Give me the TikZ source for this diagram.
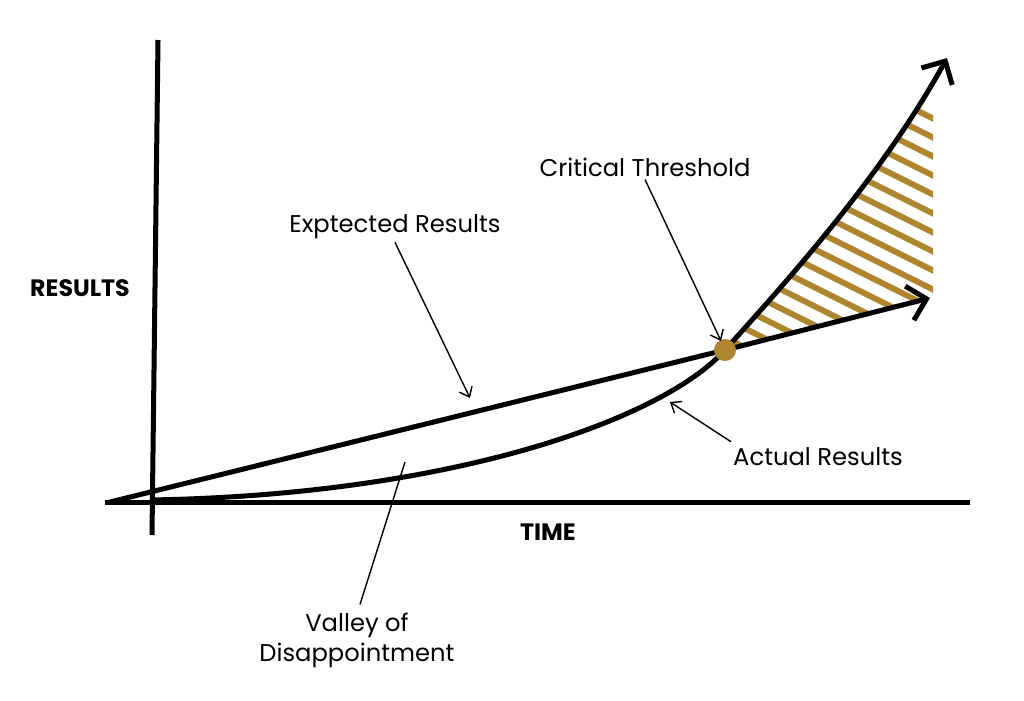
\documentclass[tikz,border=0pt]{standalone}
\usepackage{fontspec}
\setmainfont{Poppins}
\usetikzlibrary{arrows.meta}
\definecolor{gold}{HTML}{B08530}
\tikzset{
    axis/.style = {line width=5pt*0.57, black},
    curve/.style = {line width=5pt*0.57, black, arrows={-Straight Barb[length=10pt, width=20pt]}},
    pointer/.style = {line width=0.8pt, black, arrows={-Straight Barb[length=5pt, width=8pt]}},
    label/.style = {font=\fontsize{13.8}{17}\selectfont, align=center},
    heading/.style = {font=\bfseries\fontsize{13.5}{16}\selectfont},
    hatch/.style = {gold, line width=6pt*0.57},
}
\begin{document}
\begin{tikzpicture}[x=0.02cm, y=-0.02cm]
    \useasboundingbox (0,0) rectangle (1024,700);

    %% Hatched gain between the two curves
    \begin{scope}
      \clip (725,350) -- (933,298) -- (933,105) -- (725,105) -- cycle;
      \clip (725,350) .. controls (788,280) and (882,176) .. (947,58)
            -- (1024,58) -- (1024,700) -- (725,700) -- cycle;
      \foreach \k in {-12,...,22}{%
        \draw [hatch] (700,{40+19*\k}) -- ++(300,150);
      }
    \end{scope}

    %% Axes
    \coordinate (ytop) at (158,40);
    \coordinate (ybot) at (152,535);
    \coordinate (xl) at (105,502);
    \coordinate (xr) at (970,502);
    \draw [axis] (ytop) -- (ybot);
    \draw [axis] (xl) -- (xr);

    %% Expected and actual results
    \coordinate (start) at (110,502);
    \coordinate (crit) at (725,350);
    \coordinate (expend) at (930,298);
    \coordinate (actend) at (947,58);
    \draw [curve] (start) -- (crit) -- (expend);
    \draw [curve] (150,500) .. controls (450,495) and (662,420) .. (crit)
        .. controls (788,280) and (882,176) .. (actend);
    \fill [gold] (crit) circle (11);

    %% Labels
    \node [heading] (results) at (80,288) {RESULTS};
    \node [heading] (time) at (548,532) {TIME};
    \node [label] (critical) at (645,167) {Critical Threshold};
    \node [label] (expected) at (395,227) {Exptected Results};
    \node [label] (actual) at (818,457) {Actual Results};
    \node [label] (valley) at (357,640) {Valley of\\Disappointment};

    \coordinate (critpt) at (721,341);
    \coordinate (exppt) at (470,398);
    \coordinate (actpt) at (670,402);
    \coordinate (valpt) at (405,462);
    \draw [pointer] (critical.south) ++(0,-3) -- (critpt);
    \draw [pointer] (expected.south) ++(0,-3) -- (exppt);
    \draw [pointer] (actual.north west) ++(4,0) -- (actpt);
    \draw [line width=0.8pt] (valley.north) ++(3,-2) -- (valpt);
\end{tikzpicture}
\end{document}
